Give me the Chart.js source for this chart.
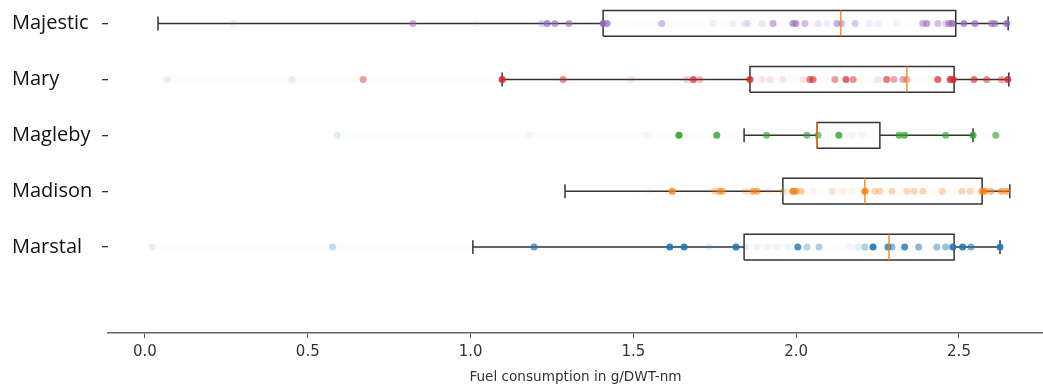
<!DOCTYPE html>
<html>
<head>
<meta charset="utf-8">
<script src="https://cdn.jsdelivr.net/npm/chart.js@4"></script>
<style>
  html, body { margin: 0; padding: 0; background: #fff; }
  #chart { display: block; }
</style>
</head>
<body>
<canvas id="chart" width="1043" height="386"></canvas>
<script>
// ships, bottom to top
const ships = ["Marstal", "Madison", "Magleby", "Mary", "Majestic"];
const shipPos = [1, 2, 3, 4, 5];
const shipColors = ["31,119,180", "255,127,14", "44,160,44", "214,39,40", "148,103,189"];

// box stats
const whiskerLo = [1.007, 1.290, 1.840, 1.097, 0.040];
const q1 = [1.840, 1.959, 2.064, 1.858, 1.407];
const median = [2.285, 2.211, 2.064, 2.340, 2.137];
const q3 = [2.485, 2.571, 2.257, 2.485, 2.490];
const whiskerHi = [2.626, 2.656, 2.543, 2.653, 2.651];

// individual points (value, alpha)
const marstalX = [0.022, 0.576, 1.195, 1.612, 1.656, 1.732, 1.815, 1.843, 1.879, 1.913, 1.94, 1.975, 2.005, 2.033, 2.07, 2.166, 2.19, 2.211, 2.236, 2.282, 2.294, 2.333, 2.376, 2.432, 2.459, 2.481, 2.511, 2.537, 2.626];
const marstalA = [0.1, 0.25, 0.7, 0.9, 0.9, 0.1, 0.9, 0.1, 0.05, 0.05, 0.05, 0.05, 0.8, 0.3, 0.35, 0.05, 0.1, 0.35, 0.9, 0.8, 0.5, 0.8, 0.5, 0.45, 0.45, 0.9, 0.9, 0.6, 0.9];

const madisonX = [1.543, 1.619, 1.75, 1.765, 1.774, 1.843, 1.867, 1.879, 1.916, 1.959, 1.99, 1.999, 2.015, 2.052, 2.11, 2.143, 2.172, 2.211, 2.242, 2.257, 2.294, 2.34, 2.362, 2.389, 2.449, 2.509, 2.534, 2.571, 2.579, 2.598, 2.63, 2.647];
const madisonA = [0.05, 0.8, 0.3, 0.6, 0.5, 0.2, 0.6, 0.6, 0.1, 0.3, 0.9, 0.7, 0.4, 0.05, 0.2, 0.1, 0.05, 0.9, 0.3, 0.3, 0.3, 0.3, 0.3, 0.3, 0.3, 0.3, 0.3, 0.8, 0.7, 0.5, 0.6, 0.6];

const maglebyX = [0.59, 1.18, 1.543, 1.64, 1.756, 1.909, 2.033, 2.067, 2.131, 2.172, 2.202, 2.316, 2.333, 2.459, 2.543, 2.613];
const maglebyA = [0.15, 0.05, 0.05, 0.9, 0.8, 0.6, 0.6, 0.6, 0.8, 0.05, 0.05, 0.7, 0.7, 0.6, 0.8, 0.6];

const maryX = [0.067, 0.451, 0.67, 1.097, 1.284, 1.493, 1.664, 1.684, 1.704, 1.858, 1.895, 1.919, 1.959, 2.021, 2.042, 2.052, 2.119, 2.153, 2.175, 2.251, 2.278, 2.3, 2.328, 2.34, 2.435, 2.473, 2.482, 2.546, 2.585, 2.63, 2.65];
const maryA = [0.1, 0.1, 0.45, 0.9, 0.5, 0.1, 0.2, 0.7, 0.3, 0.8, 0.1, 0.1, 0.1, 0.1, 0.6, 0.6, 0.45, 0.7, 0.5, 0.1, 0.6, 0.4, 0.4, 0.3, 0.7, 0.8, 0.8, 0.6, 0.5, 0.4, 0.8];

const majesticX = [0.271, 0.823, 1.019, 1.219, 1.235, 1.259, 1.302, 1.407, 1.419, 1.587, 1.744, 1.805, 1.843, 1.852, 1.895, 1.929, 1.99, 1.999, 2.027, 2.067, 2.094, 2.125, 2.14, 2.181, 2.227, 2.251, 2.308, 2.389, 2.401, 2.435, 2.459, 2.469, 2.479, 2.515, 2.549, 2.6, 2.61, 2.647];
const majesticA = [0.1, 0.5, 0.05, 0.3, 0.7, 0.6, 0.6, 0.8, 0.7, 0.4, 0.1, 0.1, 0.15, 0.15, 0.15, 0.5, 0.6, 0.6, 0.4, 0.15, 0.1, 0.5, 0.4, 0.35, 0.1, 0.1, 0.08, 0.5, 0.6, 0.4, 0.3, 0.6, 0.8, 0.7, 0.7, 0.6, 0.6, 0.8];

const pointsX = [marstalX, madisonX, maglebyX, maryX, majesticX];
const pointsA = [marstalA, madisonA, maglebyA, maryA, majesticA];

const xTicks = [0, 0.5, 1.0, 1.5, 2.0, 2.5];

const boxHalf = 0.23;
const capHalf = 0.125;

function seg(data, color, width, order) {
  return {
    type: "scatter",
    data: data,
    showLine: true,
    borderColor: color,
    borderWidth: width,
    pointRadius: 0,
    pointHoverRadius: 0,
    fill: false,
    order: order,
  };
}

const datasets = [];
ships.forEach((name, i) => {
  const y = shipPos[i];
  const xs = pointsX[i];
  const c = shipColors[i];

  // faint band left by many overlapping faint points
  datasets.push(seg([{ x: Math.min(...xs), y: y }, { x: Math.max(...xs), y: y }], `rgba(${c},0.02)`, 7, 4));

  // whiskers and caps
  datasets.push(seg([{ x: whiskerLo[i], y: y }, { x: q1[i], y: y }], "#333", 1.5, 2));
  datasets.push(seg([{ x: q3[i], y: y }, { x: whiskerHi[i], y: y }], "#333", 1.5, 2));
  datasets.push(seg([{ x: whiskerLo[i], y: y - capHalf }, { x: whiskerLo[i], y: y + capHalf }], "#333", 1.5, 2));
  datasets.push(seg([{ x: whiskerHi[i], y: y - capHalf }, { x: whiskerHi[i], y: y + capHalf }], "#333", 1.5, 2));

  // box
  datasets.push(seg([
    { x: q1[i], y: y - boxHalf },
    { x: q3[i], y: y - boxHalf },
    { x: q3[i], y: y + boxHalf },
    { x: q1[i], y: y + boxHalf },
    { x: q1[i], y: y - boxHalf },
  ], "#333", 1.5, 2));

  // median
  datasets.push(seg([{ x: median[i], y: y - boxHalf }, { x: median[i], y: y + boxHalf }], "rgba(255,127,14,0.9)", 1.5, 0));

  // points
  datasets.push({
    type: "scatter",
    data: xs.map((v) => ({ x: v, y: y })),
    backgroundColor: pointsA[i].map((a) => `rgba(${c},${a})`),
    borderWidth: 0,
    pointRadius: 3.5,
    pointHoverRadius: 3.5,
    order: 1,
  });
});

const chart = new Chart(document.getElementById("chart"), {
  type: "scatter",
  data: { datasets: datasets },
  options: {
    responsive: false,
    animation: false,
    devicePixelRatio: 1,
    layout: { autoPadding: false, padding: { left: 12, top: 0, right: 0, bottom: 0 } },
    plugins: {
      legend: { display: false },
      tooltip: { enabled: false },
    },
    scales: {
      x: {
        type: "linear",
        min: -0.1136,
        max: 2.758,
        afterBuildTicks: (scale) => {
          scale.ticks = xTicks.map((v) => ({ value: v }));
        },
        afterFit: (scale) => {
          scale.height = 53;
          scale.paddingLeft = 0;
          scale.paddingRight = 0;
        },
        grid: {
          drawOnChartArea: false,
          drawTicks: true,
          tickLength: 5,
          color: "#555",
        },
        border: { display: true, color: "#666", width: 1.5 },
        ticks: {
          padding: 5,
          color: "#333",
          font: { family: "'DejaVu Sans'", size: 15 },
          callback: (v) => Number(v).toFixed(1),
        },
        title: {
          display: true,
          text: "Fuel consumption in g/DWT-nm",
          color: "#333",
          padding: { top: 2, bottom: 0 },
          font: { family: "'DejaVu Sans'", size: 13.6 },
        },
      },
      y: {
        type: "linear",
        min: -0.536,
        max: 5.42,
        afterBuildTicks: (scale) => {
          scale.ticks = shipPos.map((v) => ({ value: v }));
        },
        afterFit: (scale) => {
          scale.width = 96;
          scale.paddingTop = 0;
          scale.paddingBottom = 0;
        },
        grid: {
          drawOnChartArea: false,
          drawTicks: true,
          tickLength: 6,
          color: "#333",
          lineWidth: 1.3,
        },
        border: { display: false },
        ticks: {
          crossAlign: "far",
          color: "#111",
          font: { family: "'Open Sans'", size: 20 },
          callback: (v) => ships[shipPos.indexOf(v)] || "",
        },
      },
    },
  },
});
</script>
</body>
</html>
